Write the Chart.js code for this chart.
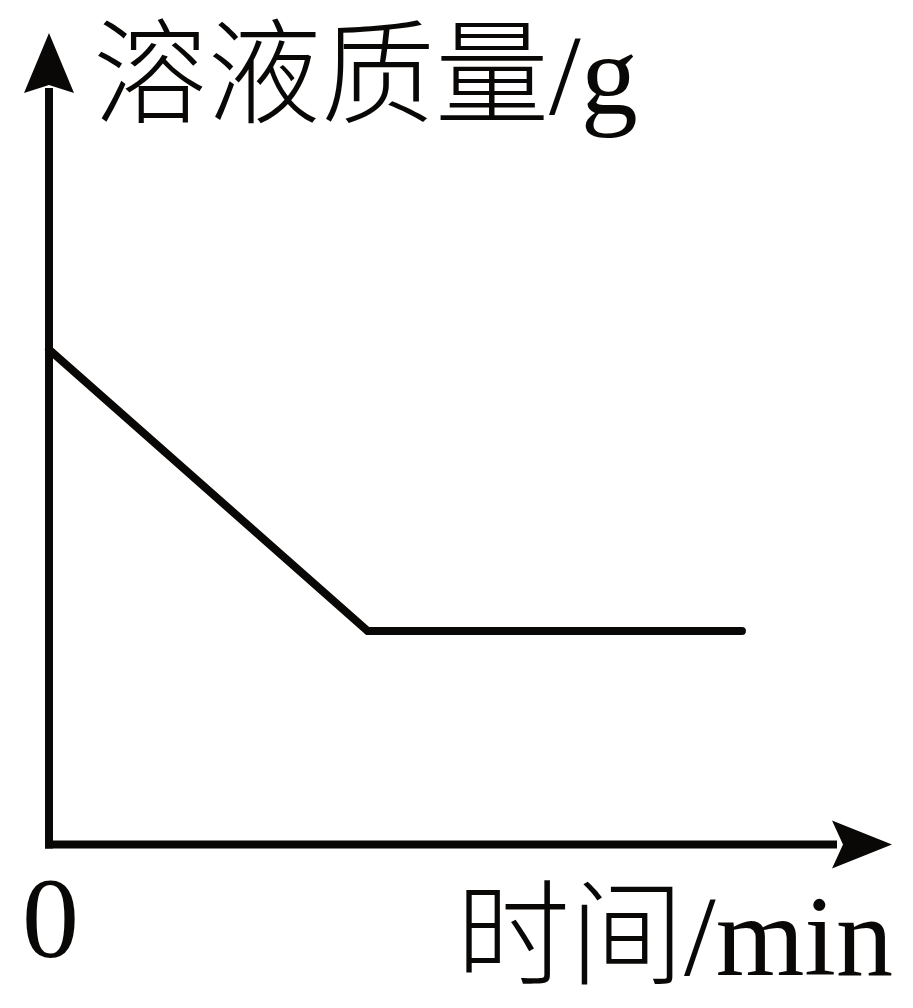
<!DOCTYPE html>
<html>
<head>
<meta charset="utf-8">
<script src="https://cdn.jsdelivr.net/npm/chart.js@4/dist/chart.umd.min.js"></script>
<style>
  html, body { margin: 0; padding: 0; background: #ffffff; }
  #wrap { width: 913px; height: 1008px; position: relative; }
</style>
</head>
<body>
<div id="wrap"><canvas id="c" width="913" height="1008"></canvas></div>
<script>
// ---- data (schematic units) ----
const timeValues = [0, 3.78, 8.22];
const massValues = [6.1, 2.63, 2.63];
const yAxisTitle = ['溶液质量/g'];
const xAxisTitle = ['时间/min'];
const originLabel = ['0'];
const xRange = [0, 10];
const yRange = [0, 10];

const INK = '#0a0806';
const FONT = '300 114px "Liberation Serif", "Noto Sans CJK SC", serif';

const points = timeValues.map((t, i) => ({ x: t, y: massValues[i] }));

const axesPlugin = {
  id: 'axesArrows',
  afterDatasetsDraw(chart) {
    const ctx = chart.ctx;
    const xs = chart.scales.x, ys = chart.scales.y;
    const ox = xs.getPixelForValue(xRange[0]);
    const oy = ys.getPixelForValue(yRange[0]);
    const xEnd = xs.getPixelForValue(xRange[1]);
    const yEnd = ys.getPixelForValue(yRange[1]);
    ctx.save();
    ctx.strokeStyle = INK;
    ctx.fillStyle = INK;
    ctx.lineWidth = 8;
    ctx.lineCap = 'butt';
    // y axis
    ctx.beginPath();
    ctx.moveTo(ox, oy + 4);
    ctx.lineTo(ox, yEnd + 55);
    ctx.stroke();
    // x axis
    ctx.beginPath();
    ctx.moveTo(ox - 4, oy);
    ctx.lineTo(xEnd - 55, oy);
    ctx.stroke();
    // y arrow head
    ctx.beginPath();
    ctx.moveTo(ox, yEnd);
    ctx.lineTo(ox + 25, yEnd + 60);
    ctx.lineTo(ox, yEnd + 52);
    ctx.lineTo(ox - 25, yEnd + 60);
    ctx.closePath();
    ctx.fill();
    // x arrow head
    ctx.beginPath();
    ctx.moveTo(xEnd, oy);
    ctx.lineTo(xEnd - 60, oy - 24);
    ctx.lineTo(xEnd - 49, oy);
    ctx.lineTo(xEnd - 60, oy + 24);
    ctx.closePath();
    ctx.fill();
    // texts
    ctx.font = FONT;
    ctx.textAlign = 'left';
    ctx.textBaseline = 'alphabetic';
    ctx.fillText(yAxisTitle[0], ox + 44, yEnd + 81);
    ctx.fillText(xAxisTitle[0], 456, oy + 130);
    ctx.fillText(originLabel[0], ox - 27, oy + 112);
    ctx.restore();
  }
};

new Chart(document.getElementById('c'), {
  type: 'line',
  data: {
    datasets: [{
      data: points,
      borderColor: INK,
      borderWidth: 8,
      pointRadius: 0,
      borderCapStyle: 'round',
      borderJoinStyle: 'miter',
      tension: 0,
      fill: false,
      clip: false
    }]
  },
  options: {
    responsive: false,
    animation: false,
    devicePixelRatio: 1,
    layout: { padding: { left: 49, right: 21, top: 33, bottom: 163.5 } },
    plugins: { legend: { display: false }, tooltip: { enabled: false }, title: { display: false } },
    scales: {
      x: { type: 'linear', min: xRange[0], max: xRange[1], display: false },
      y: { type: 'linear', min: yRange[0], max: yRange[1], display: false }
    }
  },
  plugins: [axesPlugin]
});
</script>
</body>
</html>
